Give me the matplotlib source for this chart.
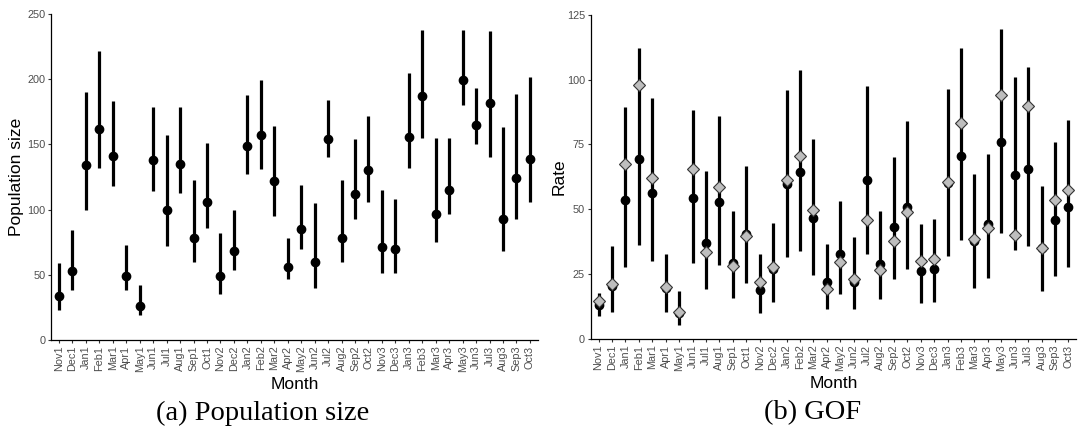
import matplotlib
matplotlib.use("Agg")
import matplotlib.pyplot as plt
import numpy as np

plt.rcParams['font.family'] = ['Liberation Sans', 'DejaVu Sans']

months = ['Nov1', 'Dec1', 'Jan1', 'Feb1', 'Mar1', 'Apr1', 'May1', 'Jun1', 'Jul1', 'Aug1', 'Sep1', 'Oct1',
          'Nov2', 'Dec2', 'Jan2', 'Feb2', 'Mar2', 'Apr2', 'May2', 'Jun2', 'Jul2', 'Aug2', 'Sep2', 'Oct2',
          'Nov3', 'Dec3', 'Jan3', 'Feb3', 'Mar3', 'Apr3', 'May3', 'Jun3', 'Jul3', 'Aug3', 'Sep3', 'Oct3']

# (a) population size
pop_est = [34, 53, 134, 162, 141, 49, 26, 138, 100, 135, 78, 106,
           49, 68, 149, 157, 122, 56, 85, 60, 154, 78, 112, 130,
           71, 70, 156, 187, 97, 115, 199, 165, 182, 93, 124, 139]
pop_lo = [23, 38, 100, 132, 118, 38, 19, 114, 72, 113, 60, 86,
          35, 54, 127, 131, 95, 47, 70, 40, 140, 60, 93, 106,
          51, 51, 132, 155, 75, 97, 180, 150, 140, 68, 93, 106]
pop_hi = [59, 84, 190, 222, 183, 73, 42, 179, 157, 179, 123, 151,
          82, 100, 188, 199, 164, 78, 119, 105, 184, 123, 154, 172,
          115, 108, 205, 238, 155, 155, 238, 193, 237, 163, 189, 202]

# (b) GOF
rate_est = [13, 20.4, 53.6, 69.2, 56.4, 19.7, 10, 54.5, 36.9, 53, 29.4, 40.6,
            18.9, 27, 59.6, 64.3, 46.5, 22, 32.6, 22, 61.2, 28.9, 43.1, 50.9,
            26.1, 26.9, 60, 70.4, 37.7, 44.2, 76, 63.4, 65.6, 35, 45.9, 50.9]
rate_gof = [14.5, 21.1, 67.4, 98, 62.2, 20, 10.3, 65.6, 33.5, 58.5, 28, 39.7,
            22, 27.8, 61.2, 70.6, 49.6, 19.2, 29.6, 23, 45.9, 26.6, 37.8, 48.8,
            29.9, 30.7, 60.5, 83.2, 38.7, 42.8, 94.2, 40.2, 89.7, 35.1, 53.7, 57.3]
rate_lo = [8.9, 10.4, 27.9, 36.4, 30.1, 10.4, 5.5, 29.4, 19.4, 28.7, 15.8, 21.5,
           10.2, 14.3, 31.7, 34.1, 24.7, 11.7, 17.5, 11.4, 32.9, 15.6, 23.3, 27.1,
           13.9, 14.1, 32, 38.2, 19.8, 23.5, 41, 34.2, 35.7, 18.6, 24.3, 27.6]
rate_hi = [17.9, 35.7, 89.6, 112.3, 92.9, 32.8, 18.5, 88.2, 64.9, 85.9, 49.5, 66.7,
           32.6, 44.7, 96.1, 103.6, 76.9, 36.8, 53.3, 39.5, 97.6, 49.5, 70, 84.2,
           44.3, 46.1, 96.5, 112.3, 63.5, 71.5, 119.5, 100.8, 104.8, 58.9, 76, 84.4]

fig = plt.figure(figsize=(10.84, 4.4), dpi=100)
ax1 = fig.add_axes([0.047, 0.2273, 0.4493, 0.7409])
ax2 = fig.add_axes([0.5448, 0.2295, 0.4482, 0.7371])

x = np.arange(len(months))


def style(ax, ylim, yticks, ylabel):
    ax.set_xlim(-0.6, len(months) - 0.4)
    ax.set_ylim(*ylim)
    ax.set_yticks(yticks)
    ax.set_xticks(x)
    ax.set_xticklabels(months, rotation=90)
    for s in ['top', 'right']:
        ax.spines[s].set_visible(False)
    for s in ['left', 'bottom']:
        ax.spines[s].set_linewidth(0.9)
    ax.tick_params(axis='both', colors='#333333', labelcolor='#4D4D4D',
                   labelsize=7.8, length=2.5, width=0.8, pad=1.5)
    ax.set_ylabel(ylabel, fontsize=12.5)
    ax.set_xlabel('Month', fontsize=12.5)
    ax.yaxis.set_label_coords(-0.055, 0.5)
    ax.xaxis.set_label_coords(0.5, -0.113)


ax1.vlines(x, pop_lo, pop_hi, color='black', linewidth=2.3, zorder=2)
ax1.plot(x, pop_est, 'o', color='black', markersize=6, zorder=3)
style(ax1, (0, 250), [0, 50, 100, 150, 200, 250], 'Population size')

ax2.vlines(x, rate_lo, rate_hi, color='black', linewidth=2.3, zorder=2)
ax2.plot(x, rate_est, 'o', color='black', markersize=6, zorder=3)
ax2.plot(x, rate_gof, 'D', markerfacecolor='#BEBEBE', markeredgecolor='#333333',
         markeredgewidth=0.8, markersize=6.5, zorder=4)
style(ax2, (0, 125), [0, 25, 50, 75, 100, 125], 'Rate')
ax2.yaxis.set_label_coords(-0.05, 0.5)

fig.text(263 / 1084, 1 - 413 / 440, '(a) Population size', family=['Liberation Serif', 'DejaVu Serif'],
         fontsize=20.5, ha='center', va='center')
fig.text(813 / 1084, 1 - 413 / 440, '(b) GOF', family=['Liberation Serif', 'DejaVu Serif'],
         fontsize=20.5, ha='center', va='center')

fig.savefig('out.png', dpi=100)
